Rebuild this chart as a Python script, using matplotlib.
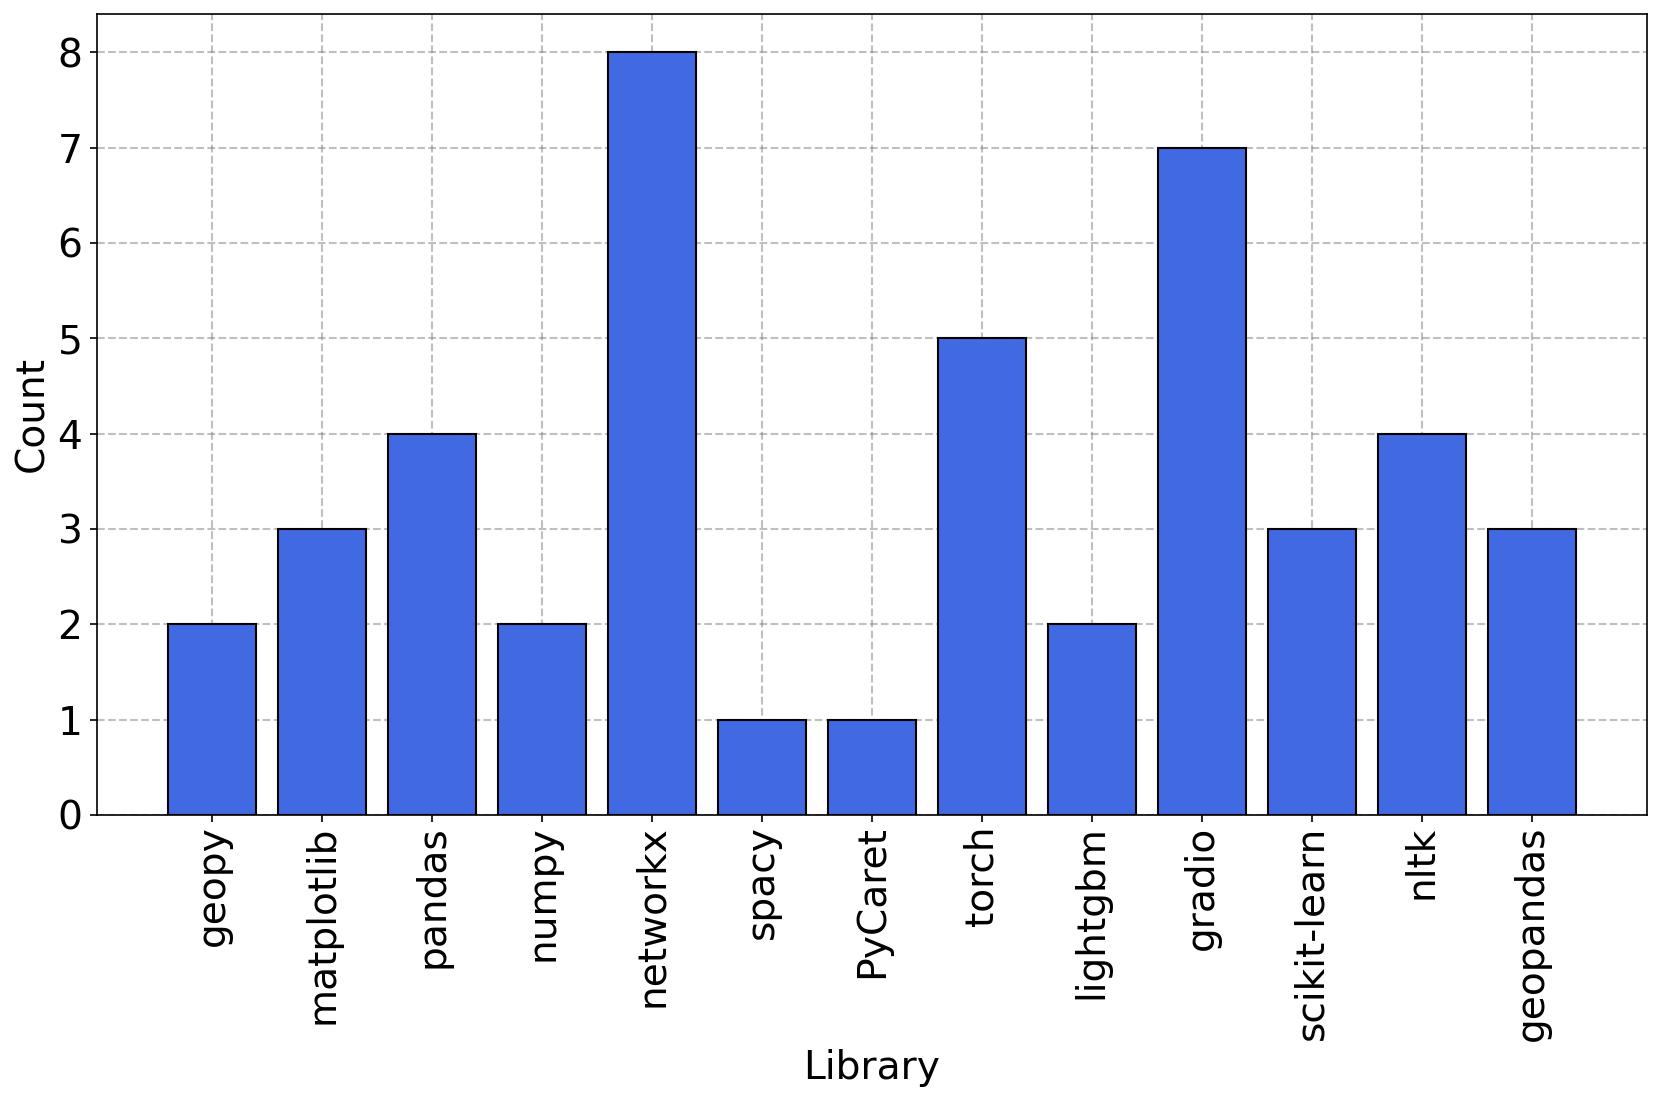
import matplotlib
matplotlib.use("Agg")
import matplotlib.pyplot as plt

# Data
libraries = ["geopy", "matplotlib", "pandas", "numpy", "networkx", "spacy", "PyCaret",
             "torch", "lightgbm", "gradio", "scikit-learn", "nltk", "geopandas"]
counts = [2, 3, 4, 2, 8, 1, 1, 5, 2, 7, 3, 4, 3]

DPI = 150
FS = 18.8
fig = plt.figure(figsize=(1661 / DPI, 1102 / DPI), dpi=DPI)
ax = fig.add_axes([97 / 1661, 1 - 815 / 1102, (1647 - 97) / 1661, (815 - 14) / 1102])

x = range(len(libraries))
ax.bar(x, counts, width=0.8, color="royalblue", edgecolor="black", linewidth=1, zorder=2)
ax.set_xticks(list(x))
ax.set_xticklabels(libraries, rotation=90, fontsize=FS)
ax.tick_params(axis="x", pad=1.5)
ax.tick_params(axis="y", labelsize=FS)
ax.set_xlim(-1.05, 13.05)
ax.set_ylim(0, 8.4)
ax.set_xlabel("Library", fontsize=FS, labelpad=4)
ax.set_ylabel("Count", fontsize=FS, labelpad=3)
ax.grid(True, linestyle="--", color="gray", alpha=0.5, linewidth=1, zorder=0)
ax.set_axisbelow(True)

fig.savefig("out.png", dpi=DPI)
